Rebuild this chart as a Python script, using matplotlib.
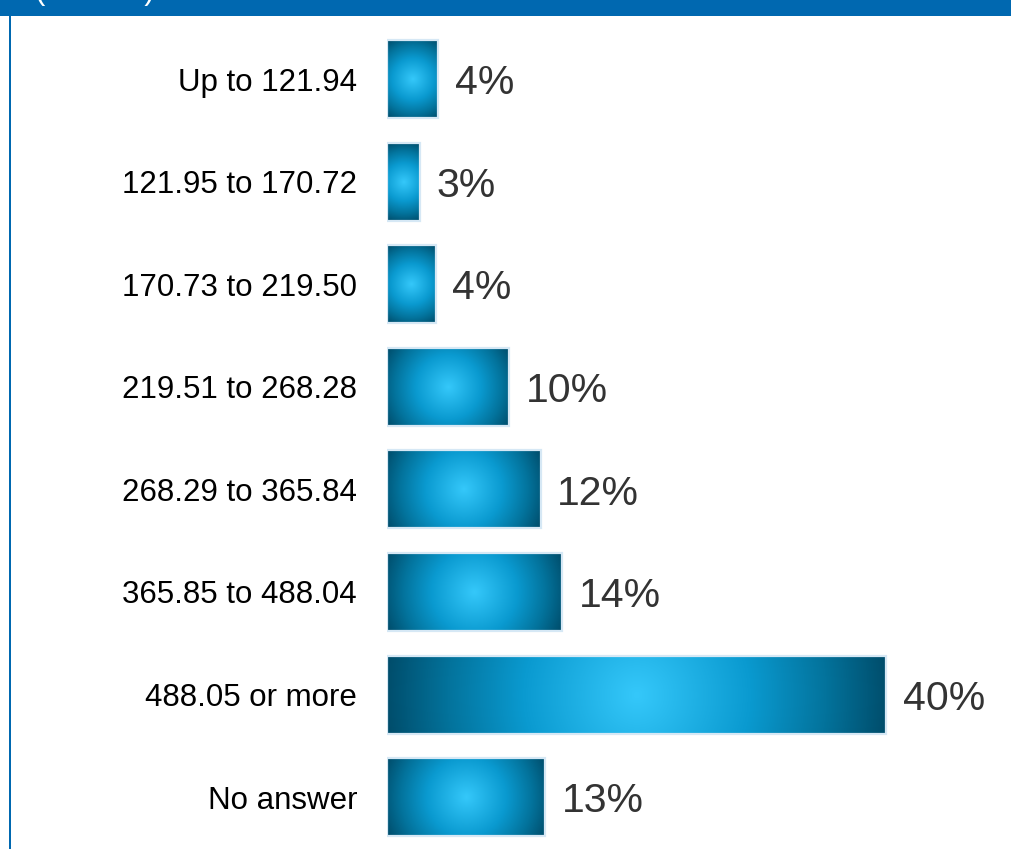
import numpy as np
import matplotlib.pyplot as plt
from matplotlib.colors import LinearSegmentedColormap
from matplotlib.patches import Rectangle

# data
categories = ['Up to 121.94', '121.95 to 170.72', '170.73 to 219.50', '219.51 to 268.28',
              '268.29 to 365.84', '365.85 to 488.04', '488.05 or more', 'No answer']
values = [4.1, 2.65, 3.9, 9.8, 12.3, 14.0, 40.0, 12.7]
value_labels = ['4%', '3%', '4%', '10%', '12%', '14%', '40%', '13%']

plt.rcParams['font.family'] = ['Liberation Sans', 'DejaVu Sans']

W, H = 1011, 849
fig = plt.figure(figsize=(W / 100, H / 100), dpi=100)
fig.patch.set_facecolor('white')

ax = fig.add_axes([387 / W, 0, 624 / W, 1])
ax.set_xlim(0, 50)
ax.set_ylim(7.505, -0.77)

# radial gradient: light cyan centre -> dark teal corners
cmap = LinearSegmentedColormap.from_list(
    'bar_grad', [(0.0, '#35c8fa'), (0.45, '#0a9ad0'), (0.75, '#03739c'), (1.0, '#004c6a')])

bar_h = 0.76
ypos = np.arange(len(categories))
px_per_x = 624 / 50
px_per_y = H / (7.505 + 0.77)

for y, v, lab in zip(ypos, values, value_labels):
    wpx = int(v * px_per_x)
    hpx = int(bar_h * px_per_y)
    xx = np.linspace(-wpx / 2, wpx / 2, wpx)
    yy = np.linspace(-hpx / 2, hpx / 2, hpx)
    X, Y = np.meshgrid(xx, yy)
    r = np.sqrt(X ** 2 + Y ** 2) / np.hypot(wpx / 2, hpx / 2)
    ax.imshow(r, cmap=cmap, vmin=0, vmax=1, aspect='auto', interpolation='bilinear',
              extent=[0, v, y + bar_h / 2, y - bar_h / 2], zorder=2)
    ax.add_patch(Rectangle((0, y - bar_h / 2), v, bar_h, fill=False,
                           edgecolor='#d6e8f5', linewidth=1.6, zorder=3))
    ax.annotate(lab, xy=(v, y), xytext=(12, -3), textcoords='offset points',
                ha='left', va='center', fontsize=29.5, color='#333333')

ax.set_xlim(0, 50)
ax.set_ylim(7.505, -0.77)
ax.set_yticks(ypos, categories, fontsize=22.5, color='black')
ax.set_xticks([])
ax.tick_params(axis='y', length=0, pad=21.6)
for s in ax.spines.values():
    s.set_visible(False)

# header band and left frame line
fig.add_artist(Rectangle((0, 1 - 16 / H), 1, 16 / H, transform=fig.transFigure,
                         facecolor='#0068b0', edgecolor='none', zorder=5))
fig.add_artist(Rectangle((8.5 / W, 0), 2 / W, 1, transform=fig.transFigure,
                         facecolor='#0068b0', edgecolor='none', zorder=5))
# title sits above the crop, only its lower edge shows
fig.text(35 / W, 1 + 1 / H, '(in EUR)', color='white', fontsize=22.5,
         ha='left', va='baseline', zorder=6)

fig.savefig('out.png', dpi=100)
